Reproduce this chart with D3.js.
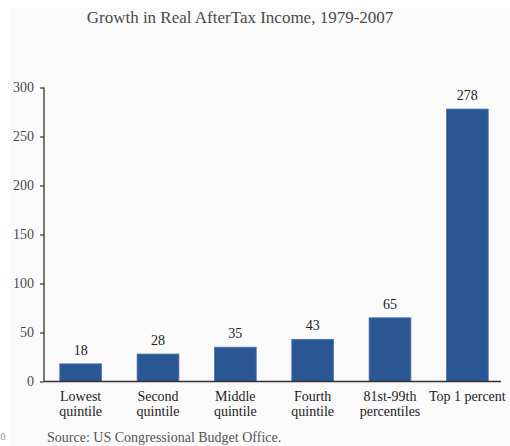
<!DOCTYPE html>
<html>
<head>
<meta charset="utf-8">
<script src="https://cdn.jsdelivr.net/npm/d3@7"></script>
<style>
  html, body { margin: 0; padding: 0; background: #ffffff; }
  svg { display: block; }
  text { font-family: "Liberation Serif", "Times New Roman", serif; }
</style>
</head>
<body>
<script>
// Growth in real after-tax income by income group, 1979-2007 (percent)
const groups = [
  ["Lowest", "quintile"],
  ["Second", "quintile"],
  ["Middle", "quintile"],
  ["Fourth", "quintile"],
  ["81st-99th", "percentiles"],
  ["Top 1 percent"]
];
const growth = [18, 28, 35, 43, 65, 278];
const yTicks = [0, 50, 100, 150, 200, 250, 300];

const W = 510, H = 446;
const svg = d3.select("body").append("svg").attr("width", W).attr("height", H);

// faint panel behind the chart
svg.append("rect")
  .attr("x", 10).attr("y", 8).attr("width", W - 10).attr("height", H - 8)
  .attr("fill", "#fafafa");

svg.append("text")
  .attr("x", 240).attr("y", 23)
  .attr("text-anchor", "middle")
  .attr("font-size", 17).attr("fill", "#4a4a4a")
  .text("Growth in Real AfterTax Income, 1979-2007");

const keys = groups.map((g, i) => i);
const x = d3.scaleBand().domain(keys).range([42, 506]).paddingInner(0.46).paddingOuter(0.23);
const y = d3.scaleLinear().domain([0, 300]).range([381.5, 87.5]);

// y axis
const yAxis = svg.append("g")
  .attr("transform", "translate(44,0)")
  .call(d3.axisLeft(y).tickValues(yTicks).tickSize(4).tickPadding(6).tickFormat(d3.format("d")));
yAxis.select(".domain").attr("stroke", "#333").attr("stroke-width", 1.3).attr("d", "M0,87.5V381.5");
yAxis.selectAll(".tick line").attr("stroke", "#333").attr("stroke-width", 1.2);
yAxis.selectAll(".tick text")
  .attr("font-size", 14).attr("fill", "#4a4a4a")
  .attr("font-family", "Liberation Serif, serif");

// bars
svg.append("g").selectAll("rect")
  .data(growth)
  .join("rect")
  .attr("x", (d, i) => x(i))
  .attr("width", x.bandwidth())
  .attr("y", d => y(d))
  .attr("height", d => y(0) - y(d))
  .attr("fill", "#2a5693")
  .attr("stroke", "#4d73aa")
  .attr("stroke-width", 0.8);

// value labels
svg.append("g").selectAll("text")
  .data(growth)
  .join("text")
  .attr("x", (d, i) => x(i) + x.bandwidth() / 2)
  .attr("y", d => y(d) - 9)
  .attr("text-anchor", "middle")
  .attr("font-size", 14).attr("fill", "#222")
  .text(d => d);

// baseline
svg.append("line")
  .attr("x1", 44).attr("x2", 501)
  .attr("y1", y(0)).attr("y2", y(0))
  .attr("stroke", "#333").attr("stroke-width", 1.5);

// category labels
const cat = svg.append("g").selectAll("text")
  .data(groups)
  .join("text")
  .attr("x", (d, i) => x(i) + x.bandwidth() / 2)
  .attr("y", 401)
  .attr("text-anchor", "middle")
  .attr("font-size", 14).attr("fill", "#222");
cat.selectAll("tspan")
  .data(d => d)
  .join("tspan")
  .attr("x", function () { return d3.select(this.parentNode).attr("x"); })
  .attr("dy", (d, j) => j === 0 ? 0 : 15)
  .text(d => d);

svg.append("text")
  .attr("x", 47).attr("y", 441.5)
  .attr("font-size", 14).attr("fill", "#555")
  .text("Source: US Congressional Budget Office.");

svg.append("text")
  .attr("x", 0.5).attr("y", 440)
  .attr("font-size", 10).attr("fill", "#888")
  .text("0");
</script>
</body>
</html>
